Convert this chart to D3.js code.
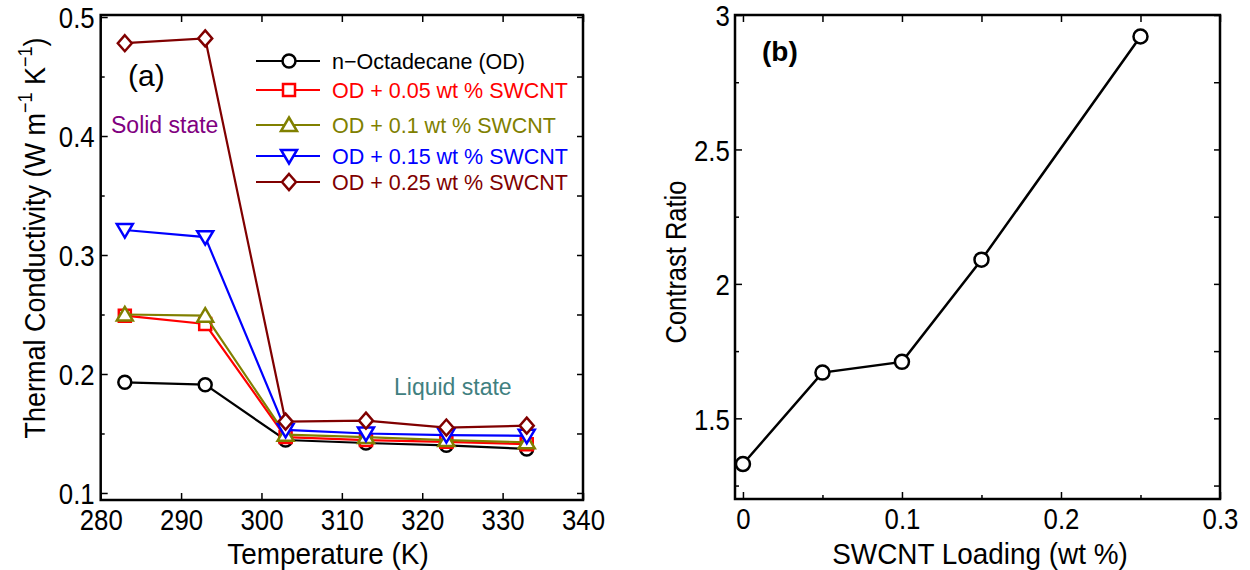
<!DOCTYPE html>
<html>
<head>
<meta charset="utf-8">
<script src="https://cdn.jsdelivr.net/npm/d3@7"></script>
<style>
  body { margin: 0; background: #fff; }
  svg { display: block; }
  .tk text { font-family: "Liberation Sans", Arial, sans-serif; font-size: 30px; fill: #000; }
  .tk line { stroke: #000; stroke-width: 1.5; }
  .tk path { display: none; }
  .ttl { font-family: "Liberation Sans", Arial, sans-serif; font-size: 30px; fill: #000; }
  .lab { font-family: "Liberation Sans", Arial, sans-serif; }
</style>
</head>
<body>
<svg id="chart" width="1250" height="570"></svg>
<script>
// panel (a): thermal conductivity vs temperature
const temps = [283, 293, 303, 313, 323, 333];
const kOD     = [0.193, 0.191, 0.1445, 0.142, 0.140, 0.137];
const kOD005  = [0.249, 0.242, 0.147, 0.1445, 0.143, 0.141];
const kOD010  = [0.250, 0.249, 0.149, 0.147, 0.1445, 0.1426];
const kOD015  = [0.321, 0.315, 0.153, 0.150, 0.1487, 0.148];
const kOD025  = [0.478, 0.482, 0.160, 0.1608, 0.155, 0.1566];

const seriesNames  = ['n\u2212Octadecane (OD)', 'OD + 0.05 wt % SWCNT', 'OD + 0.1 wt % SWCNT',
                      'OD + 0.15 wt % SWCNT', 'OD + 0.25 wt % SWCNT'];
const seriesValues = [kOD, kOD005, kOD010, kOD015, kOD025];
const seriesColors = ['#000000', '#ff0000', '#808000', '#0000ff', '#800000'];
const seriesMarker = ['circle', 'square', 'triangle', 'triangleDown', 'diamond'];

const aXTicks = [280, 290, 300, 310, 320, 330, 340];
const aYTicks = [0.1, 0.2, 0.3, 0.4, 0.5];
const aYMinor = [0.15, 0.25, 0.35, 0.45];

// panel (b): contrast ratio vs loading
const loading  = [0, 0.05, 0.1, 0.15, 0.25];
const contrast = [1.33, 1.67, 1.71, 2.09, 2.92];
const bXTicks = [0, 0.1, 0.2, 0.3];
const bXMinor = [0.05, 0.15, 0.25];
const bYTicks = [1.5, 2, 2.5, 3];
const bYMinor = [1.25, 1.75, 2.25, 2.75];

// the original figure uses a condensed-looking sans; squeeze horizontally
const TICK_SQUEEZE = 0.86;
const TITLE_SQUEEZE = 0.93;

const svg = d3.select('#chart');

function dropEmpty(sel) {
  sel.selectAll('text').filter(function () { return !this.textContent; }).remove();
}

// mirrored inward ticks on all four sides, plus a frame
function frame(g, x, y, opt) {
  const [x0, x1] = x.range();
  const [y0, y1] = y.range(); // y0 bottom, y1 top

  const bot = g.append('g').attr('class', 'tk').attr('transform', `translate(0,${y0})`)
    .call(d3.axisBottom(x).tickValues(opt.xMaj).tickSize(-7).tickPadding(8.5).tickFormat(opt.fmtX));
  bot.selectAll('text').attr('transform', `scale(${TICK_SQUEEZE},1)`);
  if (opt.xMin.length) {
    dropEmpty(g.append('g').attr('class', 'tk').attr('transform', `translate(0,${y0})`)
      .call(d3.axisBottom(x).tickValues(opt.xMin).tickSize(-4).tickFormat('')));
  }
  dropEmpty(g.append('g').attr('class', 'tk').attr('transform', `translate(0,${y1})`)
    .call(d3.axisTop(x).tickValues(opt.xMaj.concat(opt.xMin)).tickSize(-7).tickFormat('')));

  const lft = g.append('g').attr('class', 'tk').attr('transform', `translate(${x0},0)`)
    .call(d3.axisLeft(y).tickValues(opt.yMaj).tickSize(-7).tickPadding(opt.padY).tickFormat(opt.fmtY));
  lft.selectAll('text').attr('transform', `scale(${TICK_SQUEEZE},1)`).attr('dy', '0.36em');
  dropEmpty(g.append('g').attr('class', 'tk').attr('transform', `translate(${x0},0)`)
    .call(d3.axisLeft(y).tickValues(opt.yMin).tickSize(-4).tickFormat('')));
  dropEmpty(g.append('g').attr('class', 'tk').attr('transform', `translate(${x1},0)`)
    .call(d3.axisRight(y).tickValues(opt.yMaj.concat(opt.yMin)).tickSize(-6).tickFormat('')));

  g.append('rect')
    .attr('x', x0).attr('y', y1)
    .attr('width', x1 - x0).attr('height', y0 - y1)
    .attr('fill', 'none').attr('stroke', '#000').attr('stroke-width', 2.5);
}

function markerPath(kind) {
  switch (kind) {
    case 'square':       return 'M-6,-6H6V6H-6Z';
    case 'triangle':     return 'M0,-7.5L8,6L-8,6Z';
    case 'triangleDown': return 'M0,7.5L8,-6L-8,-6Z';
    case 'diamond':      return 'M0,-8L7,0L0,8L-7,0Z';
    default:             return d3.symbol().type(d3.symbolCircle).size(Math.PI * 42)();
  }
}

// ---------- panel (a) ----------
const xa = d3.scaleLinear().domain([280, 340]).range([100.7, 583]);
const ya = d3.scaleLinear().domain([0.0941, 0.5017]).range([500, 15]);
const ga = svg.append('g');

frame(ga, xa, ya, {
  xMaj: aXTicks, xMin: [], yMaj: aYTicks, yMin: aYMinor, padY: 7,
  fmtX: d3.format('d'), fmtY: d3.format('.1f')
});

const lineA = d3.line().x((d, i) => xa(temps[i])).y(d => ya(d));
seriesValues.forEach((vals, s) => {
  const g = ga.append('g');
  g.append('path').attr('d', lineA(vals))
    .attr('fill', 'none').attr('stroke', seriesColors[s]).attr('stroke-width', 2.2);
  g.selectAll('path.m').data(vals).join('path').attr('class', 'm')
    .attr('d', markerPath(seriesMarker[s]))
    .attr('transform', (d, i) => `translate(${xa(temps[i])},${ya(d)})`)
    .attr('fill', '#fff').attr('stroke', seriesColors[s]).attr('stroke-width', 2.5);
});

// legend
const legRows = [61, 90, 125, 156, 182];
const leg = ga.append('g');
seriesNames.forEach((name, s) => {
  const y = legRows[s];
  leg.append('line').attr('x1', 256).attr('x2', 320).attr('y1', y).attr('y2', y)
    .attr('stroke', seriesColors[s]).attr('stroke-width', 2.2);
  leg.append('path').attr('d', markerPath(seriesMarker[s]))
    .attr('transform', `translate(289,${y})`)
    .attr('fill', '#fff').attr('stroke', seriesColors[s]).attr('stroke-width', 2.5);
  leg.append('text').attr('class', 'lab').attr('x', 332).attr('y', y + 7.5)
    .attr('font-size', 21.5).attr('fill', seriesColors[s]).text(name);
});

ga.append('text').attr('class', 'lab').attr('x', 128).attr('y', 86)
  .attr('font-size', 30).text('(a)');
ga.append('text').attr('class', 'lab').attr('x', 111).attr('y', 133)
  .attr('font-size', 23).attr('fill', '#800080').text('Solid state');
ga.append('text').attr('class', 'lab').attr('x', 394).attr('y', 395)
  .attr('font-size', 23).attr('fill', '#408080').text('Liquid state');

ga.append('text').attr('class', 'ttl')
  .attr('transform', `translate(328,563.5) scale(${TITLE_SQUEEZE},1)`)
  .attr('text-anchor', 'middle').text('Temperature (K)');

const yt = ga.append('text').attr('class', 'ttl')
  .attr('transform', `translate(45,238) rotate(-90) scale(0.9,1)`)
  .attr('text-anchor', 'middle').attr('font-size', 32);
yt.append('tspan').text('Thermal Conductivity (W m');
yt.append('tspan').attr('dy', -13).attr('font-size', 20).text('\u22121');
yt.append('tspan').attr('dy', 13).text(' K');
yt.append('tspan').attr('dy', -13).attr('font-size', 20).text('\u22121');
yt.append('tspan').attr('dy', 13).text(')');

// ---------- panel (b) ----------
const xb = d3.scaleLinear().domain([-0.005, 0.3]).range([735, 1220]);
const yb = d3.scaleLinear().domain([1.2, 3]).range([499, 15]);
const gb = svg.append('g');

frame(gb, xb, yb, {
  xMaj: bXTicks, xMin: bXMinor, yMaj: bYTicks, yMin: bYMinor, padY: 6,
  fmtX: d3.format('~g'), fmtY: d3.format('~g')
});

const lineB = d3.line().x((d, i) => xb(loading[i])).y(d => yb(d));
gb.append('path').attr('d', lineB(contrast))
  .attr('fill', 'none').attr('stroke', '#000').attr('stroke-width', 2.5);
gb.selectAll('circle.pt').data(contrast).join('circle').attr('class', 'pt')
  .attr('cx', (d, i) => xb(loading[i])).attr('cy', d => yb(d)).attr('r', 7)
  .attr('fill', '#fff').attr('stroke', '#000').attr('stroke-width', 2.5);

gb.append('text').attr('class', 'lab').attr('x', 762).attr('y', 61)
  .attr('font-size', 28).attr('font-weight', 'bold').text('(b)');

gb.append('text').attr('class', 'ttl')
  .attr('transform', `translate(980,563.5) scale(${TITLE_SQUEEZE},1)`)
  .attr('text-anchor', 'middle').text('SWCNT Loading (wt %)');
gb.append('text').attr('class', 'ttl')
  .attr('transform', `translate(686,262) rotate(-90) scale(0.85,1)`)
  .attr('text-anchor', 'middle').text('Contrast Ratio');
</script>
</body>
</html>
